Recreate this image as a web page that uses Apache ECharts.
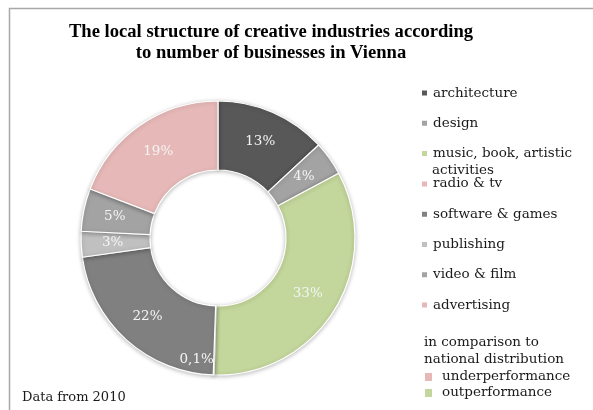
<!DOCTYPE html>
<html>
<head>
<meta charset="utf-8">
<script src="https://cdn.jsdelivr.net/npm/echarts@6/dist/echarts.min.js"></script>
<style>
html,body{margin:0;padding:0;background:#fff;}
#chart{width:593px;height:410px;}
</style>
</head>
<body>
<div id="chart"></div>
<script>
const categories = ['architecture','design','music, book, artistic activities','radio & tv','software & games','publishing','video & film','advertising'];
const shares = [13, 4, 33, 0.1, 22, 3, 5, 19];
const colors = ['#585858','#a3a3a3','#c3d69b','#e6b9b8','#808080','#c0c0c0','#a3a3a3','#e6b9b8'];
const titleLines = ['The local structure of creative industries according','to number of businesses in Vienna'];
const noteText = 'Data from 2010';
const comparisonTitle = ['in comparison to','national distribution'];
const comparisonItems = ['underperformance','outperformance'];
const comparisonColors = ['#e6b9b8','#c3d69b'];

const SERIF = '"DejaVu Serif", serif';
const chart = echarts.init(document.getElementById('chart'), null, {renderer:'canvas'});

const musicName = categories[2];
const musicParts = ['music, book, artistic','activities'];

chart.setOption({
  animation:false,
  backgroundColor:'#fff',
  title:{
    text: titleLines.join('\n'),
    left: 271, top: 22, padding:0,
    textAlign:'center',
    textStyle:{fontFamily:'"Liberation Serif", serif', fontWeight:'bold', fontSize:18.6, color:'#000', lineHeight:21}
  },
  legend:{
    orient:'vertical', left:420, top:85, padding:0,
    itemWidth:7, itemHeight:7, itemGap:14.3, icon:'rect',
    selectedMode:false,
    data: categories,
    formatter: n => n === musicName ? musicParts[0] : n,
    textStyle:{fontFamily:SERIF, fontSize:13.5, color:'#1a1a1a', lineHeight:16}
  },
  graphic:[
    {type:'rect', shape:{x:9.5, y:8.5, width:600, height:420}, style:{fill:'none', stroke:'#a8a8a8', lineWidth:1.5}, silent:true},
    {type:'text', left:432, top:163, style:{text:musicParts[1], font:'13.5px "DejaVu Serif", serif', fill:'#1a1a1a'}},
    {type:'text', left:424, top:334, style:{text:comparisonTitle.join('\n'), font:'13.5px "DejaVu Serif", serif', fill:'#1a1a1a', lineHeight:17}},
    {type:'rect', shape:{x:425, y:373, width:7, height:8}, style:{fill:comparisonColors[0]}},
    {type:'text', left:442, top:369, style:{text:comparisonItems[0], font:'13.5px "DejaVu Serif", serif', fill:'#1a1a1a'}},
    {type:'rect', shape:{x:425, y:389, width:7, height:8}, style:{fill:comparisonColors[1]}},
    {type:'text', left:442, top:385, style:{text:comparisonItems[1], font:'13.5px "DejaVu Serif", serif', fill:'#1a1a1a'}},
    {type:'text', left:22, top:391, style:{text:noteText, font:'13px "DejaVu Serif", serif', fill:'#1a1a1a'}}
  ],
  series:[{
    type:'pie',
    center:[218, 238],
    radius:[68, 137],
    startAngle:90,
    clockwise:true,
    avoidLabelOverlap:false,
    itemStyle:{borderColor:'#fff', borderWidth:1.2, shadowBlur:4, shadowColor:'rgba(0,0,0,0.25)', shadowOffsetY:1},
    label:{
      show:true, position:'inside',
      fontFamily:SERIF, fontSize:13.5, color:'#f4f4f4',
      formatter: p => String(p.value).replace('.', ',') + '%'
    },
    labelLine:{show:false},
    emphasis:{disabled:true},
    data: categories.map((c,i)=>({
      name:c, value:shares[i], itemStyle:{color:colors[i]},
      label: shares[i] < 1 ? {offset:[-18, 16]} : undefined
    }))
  }]
});
</script>
</body>
</html>
